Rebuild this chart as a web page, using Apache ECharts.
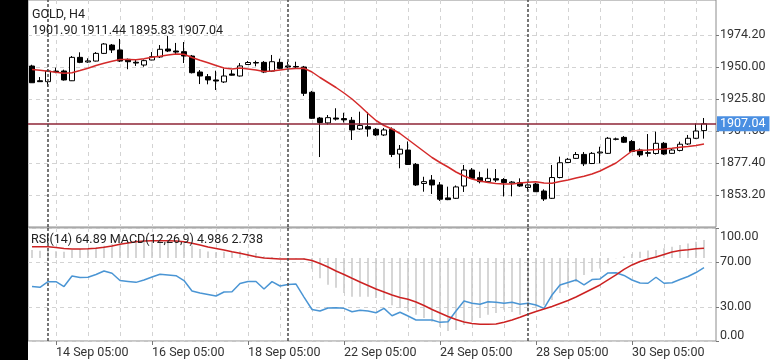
<!DOCTYPE html>
<html><head><meta charset="utf-8">
<script src="https://cdn.jsdelivr.net/npm/echarts@6/dist/echarts.min.js"></script>
<style>html,body{margin:0;padding:0;background:#fff}#c{width:780px;height:360px}</style>
</head><body><div id="c"></div>
<script>
// ---- data ----
const tradeDays = ['11 Sep','14 Sep','15 Sep','16 Sep','17 Sep','18 Sep','21 Sep','22 Sep','23 Sep','24 Sep','25 Sep','28 Sep','29 Sep','30 Sep','01 Oct'];
const barHours = ['01:00','05:00','09:00','13:00','17:00','21:00'];
const firstDayHours = ['17:00','21:00'];
const weekStarts = ['14 Sep 01:00','21 Sep 01:00','28 Sep 01:00'];
const priceTicks = [1853.2, 1877.4, 1901.6, 1925.8, 1950.0, 1974.2];
const rsiTicks = [0, 30, 70, 100];
const symbolTitle = 'GOLD, H4';
const indicatorTitle = 'RSI(14) 64.89 MACD(12,26,9) 4.986 2.738';

const candleOpen  = [1950.75,1939.6,1938.9,1946.9,1946.98,1939.6,1957.3,1953.8,1954.5,1960.3,1966.6,1962.9,1955.8,1953.6,1951.5,1955.3,1957.6,1963.6,1962.1,1961.6,1958.3,1946.2,1942.7,1940.2,1938.7,1944.7,1943.2,1951.9,1953.4,1953.5,1946.9,1953.5,1950.8,1950.4,1950.0,1930.9,1911.4,1907.7,1911.4,1911.0,1909.7,1903.1,1904.9,1902.9,1898.6,1902.9,1884.2,1887.2,1876.4,1861.9,1864.5,1860.8,1851.0,1850.7,1860.0,1872.1,1866.3,1863.3,1865.5,1864.9,1862.3,1862.5,1858.9,1861.5,1856.2,1850.7,1866.4,1877.8,1880.9,1883.9,1877.0,1885.0,1884.7,1895.3,1896.8,1893.7,1887.2,1885.2,1884.6,1892.3,1884.7,1886.9,1891.8,1896.1,1901.90];
const candleClose = [1938.1,1938.9,1947.0,1946.3,1940.2,1957.3,1953.5,1954.6,1960.3,1967.4,1962.9,1954.5,1954.0,1953.0,1954.8,1957.8,1963.4,1962.1,1961.3,1958.3,1945.7,1943.2,1940.2,1939.4,1943.2,1943.8,1950.8,1953.4,1953.0,1946.2,1954.0,1949.0,1950.0,1950.0,1930.1,1911.2,1908.0,1911.7,1910.6,1910.0,1902.4,1905.8,1903.1,1898.6,1902.4,1883.9,1887.8,1876.3,1860.8,1863.3,1860.8,1850.0,1849.7,1859.3,1872.1,1865.8,1863.3,1865.8,1864.5,1862.6,1863.0,1860.0,1860.8,1855.7,1850.2,1866.4,1877.6,1880.2,1883.8,1876.8,1884.7,1885.7,1896.1,1895.6,1893.1,1886.1,1883.5,1884.7,1892.3,1884.2,1887.2,1891.6,1896.1,1901.6,1907.04];
const candleLow   = [1937.9,1938.8,1935.1,1945.3,1939.7,1939.4,1952.9,1953.2,1954.2,1959.8,1960.6,1953.8,1948.3,1950.8,1950.2,1955.1,1956.8,1961.3,1959.8,1953.0,1945.1,1937.1,1936.9,1932.6,1937.9,1943.5,1942.8,1951.5,1950.5,1945.4,1946.2,1948.3,1949.0,1949.0,1928.1,1910.7,1881.9,1906.5,1909.5,1908.0,1894.8,1902.4,1897.3,1897.8,1897.8,1881.9,1873.4,1875.9,1860.0,1855.7,1854.0,1848.7,1849.3,1850.2,1855.5,1865.3,1862.0,1862.7,1863.0,1852.1,1852.2,1859.3,1856.0,1855.5,1848.7,1850.2,1865.8,1877.4,1880.4,1875.1,1876.6,1877.2,1884.2,1894.5,1892.5,1885.7,1881.9,1882.2,1883.8,1883.5,1884.2,1886.2,1891.0,1895.5,1895.83];
const candleHigh  = [1951.7,1942.4,1948.3,1949.5,1948.0,1958.3,1961.1,1956.6,1961.3,1968.1,1967.4,1971.2,1956.4,1955.3,1955.7,1961.3,1966.6,1973.4,1968.2,1968.9,1959.1,1947.7,1944.7,1947.2,1948.9,1947.7,1953.0,1954.5,1954.8,1954.5,1959.1,1956.3,1954.0,1954.0,1950.8,1931.9,1912.2,1913.7,1918.8,1915.4,1912.2,1916.2,1916.0,1903.9,1903.9,1904.3,1891.0,1893.7,1877.4,1867.0,1868.3,1863.0,1859.5,1860.4,1875.9,1873.6,1870.8,1873.2,1872.8,1866.0,1863.8,1865.8,1862.0,1862.3,1857.5,1875.9,1882.2,1881.2,1885.7,1885.7,1885.7,1889.7,1897.1,1896.6,1897.8,1894.8,1888.4,1899.3,1901.1,1893.3,1888.5,1893.5,1898.6,1907.3,1911.44];
const maValues    = [1948.11,1947.51,1946.75,1945.99,1945.31,1945.69,1947.35,1949.02,1951.14,1952.80,1954.31,1955.60,1955.60,1955.45,1956.20,1957.34,1958.17,1959.08,1959.83,1959.61,1957.19,1955.07,1953.25,1951.14,1949.24,1948.49,1949.24,1948.49,1947.73,1946.60,1946.98,1947.73,1948.49,1948.87,1949.02,1946.22,1942.06,1938.28,1934.50,1930.34,1925.80,1920.51,1914.84,1909.54,1905.76,1903.11,1899.71,1895.17,1890.64,1886.10,1881.56,1877.78,1874.38,1870.59,1867.57,1865.30,1863.79,1862.65,1861.90,1861.52,1861.52,1862.28,1862.88,1863.26,1862.28,1862.05,1863.41,1864.54,1866.06,1867.34,1869.08,1871.35,1874.38,1877.40,1881.94,1886.48,1887.01,1887.23,1887.54,1887.99,1888.59,1889.28,1889.88,1890.64,1891.77];
const rsiValues   = [48.2,47.5,52.5,52.5,48.2,57.5,56.2,56.4,58.8,61.9,59.9,53.5,52.7,51.9,54.0,56.6,59.0,58.4,57.8,53.5,44.2,42.5,41.2,39.8,43.4,43.6,50.9,52.7,52.7,46.0,52.5,48.7,50.0,50.4,38.9,27.9,26.5,29.2,29.5,28.9,25.9,27.2,26.5,25.0,28.9,22.4,25.4,22.1,18.6,18.6,18.6,16.5,17.1,26.5,35.4,33.4,32.5,34.8,34.2,33.4,34.2,32.5,33.4,31.9,28.9,40.7,49.6,51.8,54.0,49.6,54.4,54.9,60.2,60.4,58.0,54.0,51.3,51.1,56.4,51.1,51.6,54.4,57.1,60.6,64.89];
const macdMain    = [2.2,2.0,2.0,1.9,1.7,2.2,2.5,2.6,2.9,3.4,3.9,4.4,4.5,4.6,4.6,4.8,5.0,5.1,5.0,4.7,3.5,2.5,1.8,1.6,1.7,1.8,1.9,1.8,1.4,0.5,0.3,0.2,0.0,-0.2,-0.5,-3.0,-5.6,-7.4,-8.3,-9.7,-10.8,-10.8,-10.8,-11.1,-11.7,-13.1,-13.9,-14.7,-15.8,-16.7,-17.7,-19.2,-20.3,-20.0,-18.6,-17.7,-16.7,-15.8,-15.3,-14.4,-15.0,-15.8,-15.0,-13.9,-13.1,-11.7,-9.7,-8.1,-6.7,-4.7,-3.9,-2.9,-1.5,-0.1,0.4,1.1,1.7,2.1,2.2,2.7,3.1,3.6,4.0,4.5,4.986];
const macdSignal  = [3.14,3.14,3.14,2.92,2.64,2.5,2.5,2.56,2.69,2.97,3.33,3.81,4.17,4.53,4.72,4.81,4.81,4.78,4.72,4.53,4.08,3.61,3.06,2.64,2.22,1.75,1.31,0.83,0.33,0.0,-0.14,-0.28,-0.28,-0.28,-0.28,-0.69,-1.53,-2.5,-3.61,-4.58,-5.64,-6.67,-7.64,-8.61,-9.44,-10.28,-10.97,-11.47,-12.22,-13.19,-14.31,-15.28,-16.25,-17.08,-17.78,-18.19,-18.39,-18.42,-18.33,-17.86,-17.22,-16.47,-15.64,-14.86,-14.17,-13.47,-12.64,-11.81,-10.83,-9.72,-8.61,-7.5,-6.11,-4.72,-3.19,-1.94,-0.97,-0.28,0.28,0.97,1.67,2.08,2.31,2.56,2.738];

// ---- build ----
const categories = [];
firstDayHours.forEach(h => categories.push(tradeDays[0] + ' ' + h));
tradeDays.slice(1).forEach(d => barHours.forEach(h => categories.push(d + ' ' + h)));
const candleData = candleOpen.map((o, i) => [o, candleClose[i], candleLow[i], candleHigh[i]]);
const lastClose = candleClose[candleClose.length - 1];
const labelIdx = categories.indexOf('14 Sep 05:00');
const FONT = 'Roboto';
const gridLine = {show: true, interval: (i) => i % 4 === labelIdx % 4, alignWithLabel: true,
  lineStyle: {color: '#d3d3d3', type: [4, 4], width: 1}};
const sepLine = {color: '#4a4a4a', width: 1.5, type: [3, 2]};

const chart = echarts.init(document.getElementById('c'), null, {renderer: 'canvas'});
chart.setOption({
  animation: false,
  backgroundColor: '#ffffff',
  textStyle: {fontFamily: FONT},
  grid: [
    {left: 28, top: 0, width: 688, height: 227, show: true, borderColor: '#8c8c8c', borderWidth: 1},
    {left: 28, top: 228, width: 688, height: 113, show: true, borderColor: '#8c8c8c', borderWidth: 1}
  ],
  xAxis: [
    {type: 'category', gridIndex: 0, data: categories, boundaryGap: true,
     axisLine: {show: false}, axisTick: {show: false}, axisLabel: {show: false}, splitLine: gridLine},
    {type: 'category', gridIndex: 1, data: categories, boundaryGap: true,
     axisLine: {show: false},
     axisTick: {show: true, alignWithLabel: true, interval: (i) => i % 12 === labelIdx, length: 4, lineStyle: {color: '#777'}},
     axisLabel: {interval: (i) => i % 12 === labelIdx, align: 'left', margin: 5, fontSize: 12.5, color: '#333', fontFamily: FONT},
     splitLine: gridLine}
  ],
  yAxis: [
    {type: 'value', gridIndex: 0, position: 'right', min: 1829.0, max: 2000.67,
     axisLine: {show: false},
     axisTick: {show: true, length: 3, customValues: priceTicks, lineStyle: {color: '#777'}},
     axisLabel: {customValues: priceTicks, formatter: (v) => v.toFixed(2), margin: 4, fontSize: 12.5, color: '#333', fontFamily: FONT},
     splitLine: {show: true, lineStyle: {color: '#d3d3d3', type: [4, 4], width: 1}}},
    {type: 'value', gridIndex: 1, position: 'right', min: 0, max: 100,
     axisLine: {show: false},
     axisTick: {show: true, length: 3, customValues: rsiTicks, lineStyle: {color: '#777'}},
     axisLabel: {customValues: rsiTicks, margin: 4, fontSize: 12.5, color: '#333', fontFamily: FONT,
       formatter: (v) => v === 100 ? '{t|100.00}' : (v === 0 ? '{b|0.00}' : v.toFixed(2)),
       rich: {t: {padding: [18, 0, 0, 0], fontSize: 12.5, color: '#333'}, b: {padding: [0, 0, 10, 0], fontSize: 12.5, color: '#333'}}},
     splitLine: {show: true, interval: 0, lineStyle: {color: '#d3d3d3', type: [4, 4], width: 1}}},
    {type: 'value', gridIndex: 1, min: -23.06, max: 8.33, show: false}
  ],
  series: [
    {type: 'bar', name: 'MACD', xAxisIndex: 1, yAxisIndex: 2, data: macdMain, barWidth: 1.5,
     itemStyle: {color: '#c8c8c8'}, silent: true, z: 1},
    {type: 'candlestick', name: 'GOLD', xAxisIndex: 0, yAxisIndex: 0, data: candleData, barWidth: 5,
     itemStyle: {color: '#ffffff', color0: '#000000', borderColor: '#000000', borderColor0: '#000000', borderWidth: 1},
     markLine: {symbol: ['none', 'none'], silent: true, animation: false,
       data: [
         {yAxis: lastClose, lineStyle: {color: '#8e2436', width: 1.5, type: 'solid'},
          label: {show: true, position: 'end', formatter: lastClose.toFixed(2), backgroundColor: '#4a8fe2', color: '#fff',
                  padding: [1, 4, 1, 3], fontSize: 12.5, fontFamily: FONT, distance: 1}}
       ].concat(weekStarts.map(w => ({xAxis: w, lineStyle: sepLine, label: {show: false}})))
     }},
    {type: 'line', name: 'MA', xAxisIndex: 0, yAxisIndex: 0, data: maValues, symbol: 'none',
     lineStyle: {color: '#d42a2a', width: 1.5}, z: 3},
    {type: 'line', name: 'RSI', xAxisIndex: 1, yAxisIndex: 1, data: rsiValues, symbol: 'none',
     lineStyle: {color: '#4a95d4', width: 1.5}, z: 3,
     markLine: {symbol: ['none', 'none'], silent: true, label: {show: false},
       data: weekStarts.map(w => ({xAxis: w, lineStyle: sepLine}))}},
    {type: 'line', name: 'Signal', xAxisIndex: 1, yAxisIndex: 2, data: macdSignal, symbol: 'none',
     lineStyle: {color: '#cc2222', width: 1.5}, z: 4}
  ],
  graphic: [
    {type: 'rect', left: 0, top: 0, z: 100, shape: {x: 0, y: 0, width: 28, height: 360}, style: {fill: '#000'}},
    {type: 'text', left: 32, top: 8, z: 100, style: {text: symbolTitle, fill: '#222', font: '12.5px ' + FONT}},
    {type: 'text', left: 32, top: 24, z: 100, style: {text: '1901.90 1911.44 1895.83 1907.04', fill: '#222', font: '12.5px ' + FONT}},
    {type: 'text', left: 31, top: 233, z: 100, style: {text: indicatorTitle, fill: '#222', font: '12.5px ' + FONT}}
  ]
});
</script></body></html>
